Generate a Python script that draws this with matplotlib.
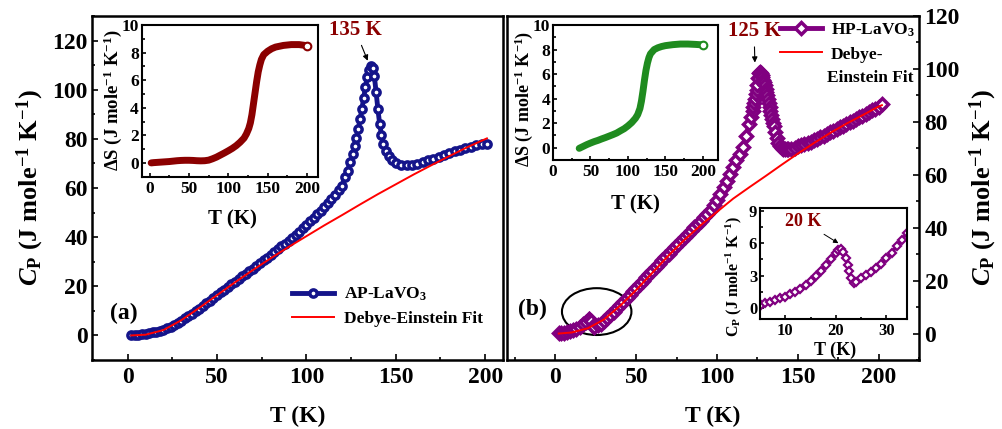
import matplotlib
matplotlib.use("Agg")
import matplotlib.pyplot as plt
from matplotlib.ticker import MultipleLocator
from matplotlib.patches import Ellipse

plt.rcParams['font.family'] = 'Liberation Serif'
plt.rcParams['font.weight'] = 'bold'
plt.rcParams['axes.labelweight'] = 'bold'
plt.rcParams['mathtext.fontset'] = 'custom'
plt.rcParams['mathtext.rm'] = 'Liberation Serif:bold'
plt.rcParams['mathtext.it'] = 'Liberation Serif:italic:bold'
plt.rcParams['mathtext.bf'] = 'Liberation Serif:bold'

# AP-LaVO3 heat capacity (T in K, Cp in J/mol K)
ap_T = [2, 4, 6, 8, 10, 12, 14, 16, 18, 20, 22, 24, 26, 28, 30, 32, 34, 36, 38, 40,
        42, 44, 46, 48, 50, 52, 54, 56, 58, 60, 62, 64, 66, 68, 70, 72, 74, 76, 78, 80,
        82, 84, 86, 88, 90, 92, 94, 96, 98, 100, 102, 104, 106, 108, 110, 112, 114, 116,
        118, 120, 121.5, 123, 124.5, 126, 127, 128, 129, 130, 131, 132, 133, 134, 135,
        136, 137, 138, 139, 140, 141, 142, 143, 144.5, 146, 148, 150, 153, 156, 159, 162,
        165, 168, 171, 174, 177, 180, 183, 186, 189, 192, 195, 198, 201]
ap_cp = [0.2, 0.25, 0.35, 0.5, 0.7, 0.9, 1.2, 1.5, 1.9, 2.4, 3.0, 3.6, 4.3, 5.1, 6.0,
         6.9, 7.9, 8.9, 9.9, 10.9, 12.0, 13.1, 14.2, 15.3, 16.4, 17.5, 18.6, 19.7, 20.8,
         21.9, 23.0, 24.0, 25.1, 26.1, 27.2, 28.3, 29.4, 30.5, 31.6, 32.7, 33.8, 35.0,
         36.2, 37.4, 38.6, 39.8, 41.0, 42.3, 43.6, 45.0, 46.4, 47.8, 49.3, 50.8, 52.3,
         53.9, 55.5, 57.2, 59.0, 61.0, 64.5, 67.0, 70.5, 74.0, 77.0, 80.5, 84.0, 88.0,
         92.0, 96.5, 101.0, 105.0, 108.0, 109.5, 108.8, 105.5, 99.0, 92.0, 86.0, 81.5,
         78.0, 75.0, 73.0, 71.2, 70.2, 69.4, 69.2, 69.4, 69.9, 70.5, 71.2, 72.0, 72.7,
         73.5, 74.2, 74.9, 75.6, 76.2, 76.8, 77.3, 77.8, 78.0]
ap_fit_T = [2, 10, 20, 30, 40, 50, 60, 70, 80, 90, 100, 110, 120, 130, 140, 150, 160,
            170, 180, 190, 201]
ap_fit_cp = [0.0, 0.3, 2.2, 6.2, 11.2, 16.4, 21.6, 26.6, 31.4, 36.0, 40.4, 44.8, 49.0,
             53.3, 57.5, 61.5, 65.5, 69.3, 73.0, 76.6, 80.2]

# AP-LaVO3 entropy change
ap_dS_T = [2, 5, 10, 15, 20, 25, 30, 35, 40, 45, 50, 55, 60, 65, 70, 75, 80, 85, 90, 95,
           100, 105, 110, 115, 120, 123, 126, 128, 130, 132, 134, 136, 138, 140, 142,
           145, 150, 155, 160, 170, 180, 190, 200]
ap_dS = [0.0, 0.02, 0.04, 0.06, 0.08, 0.1, 0.13, 0.16, 0.18, 0.19, 0.19, 0.18, 0.16,
         0.15, 0.16, 0.2, 0.3, 0.42, 0.57, 0.72, 0.88, 1.05, 1.25, 1.5, 1.8, 2.1, 2.5,
         2.9, 3.5, 4.3, 5.1, 5.9, 6.6, 7.1, 7.5, 7.85, 8.1, 8.28, 8.4, 8.52, 8.58, 8.58, 8.5]

# HP-LaVO3 heat capacity
hp_T = [2, 3.5, 5.3, 7, 9, 11, 13, 15, 17, 19, 20.5, 21, 22, 23, 24, 26, 28, 30, 32, 34,
        36, 38, 40, 42, 44, 46, 48, 50, 52, 54, 56, 58, 60, 62, 64, 66, 68, 70, 72, 74,
        76, 78, 80, 82, 84, 86, 88, 90, 92, 94, 96, 98, 100, 102, 104, 106, 108, 110,
        112, 114, 116, 118, 120, 121, 122, 122.5, 123, 123.5, 124, 124.5, 125, 125.5,
        126, 126.5, 127, 127.5, 128, 128.5, 129, 129.5, 130, 130.5, 131, 131.5, 132,
        132.5, 133, 133.5, 134, 134.5, 135, 136, 137, 138, 139, 140, 141, 142, 143, 144,
        146, 148, 150, 152, 154, 156, 158, 160, 162, 164, 166, 168, 170, 172, 174, 176,
        178, 180, 182, 184, 186, 188, 190, 192, 194, 196, 198, 200, 202]
hp_cp = [0.05, 0.15, 0.3, 0.6, 0.9, 1.3, 1.8, 2.5, 3.45, 4.5, 5.4, 5.5, 4.6, 2.8, 2.4,
         3.05, 3.7, 4.6, 5.7, 6.9, 8.2, 9.5, 10.8, 12.1, 13.4, 14.7, 16.0, 17.3, 18.6,
         19.9, 21.2, 22.5, 23.8, 25.1, 26.4, 27.7, 29.0, 30.2, 31.4, 32.7, 33.9, 35.2,
         36.4, 37.6, 38.9, 40.1, 41.4, 42.6, 43.9, 45.3, 46.8, 48.6, 50.5, 52.8, 55.2,
         57.5, 60.2, 62.8, 65.5, 67.8, 70.5, 74.7, 79.0, 82.0, 84.0, 85.5, 87.0, 88.7,
         90.5, 92.2, 94.0, 96.5, 98.5, 98.8, 98.5, 97.8, 97.0, 96.0, 95.0, 93.8, 92.5,
         91.2, 90.0, 88.5, 87.0, 85.5, 84.0, 82.5, 81.0, 79.7, 78.5, 76.0, 74.0, 72.0,
         70.8, 70.2, 69.9, 69.8, 69.7, 69.7, 69.9, 70.3, 70.8, 71.2, 71.6, 72.0, 72.5,
         73.0, 73.6, 74.2, 74.8, 75.4, 76.0, 76.6, 77.3, 77.9, 78.6, 79.2, 79.8, 80.5,
         81.1, 81.8, 82.4, 83.0, 83.7, 84.3, 85.0, 85.8, 86.7]
hp_fit_T = [2, 10, 20, 30, 40, 50, 60, 70, 80, 90, 100, 110, 120, 130, 140, 150, 160,
            170, 180, 190, 200, 202]
hp_fit_cp = [0.0, 0.4, 2.0, 5.3, 10.5, 16.5, 23.0, 29.5, 35.5, 41.0, 46.0, 51.0, 55.3,
             59.5, 63.8, 68.0, 72.0, 75.8, 79.3, 82.5, 85.8, 86.3]

# HP-LaVO3 entropy change
hp_dS_T = [35, 40, 45, 50, 55, 60, 65, 70, 75, 80, 85, 90, 95, 100, 105, 110, 113, 116,
           118, 120, 122, 124, 126, 128, 130, 135, 140, 145, 150, 160, 170, 180, 190, 200]
hp_dS = [-0.05, 0.1, 0.25, 0.38, 0.5, 0.6, 0.72, 0.83, 0.95, 1.07, 1.2, 1.38, 1.55, 1.78,
         2.05, 2.4, 2.7, 3.2, 3.8, 4.6, 5.5, 6.3, 6.9, 7.35, 7.65, 8.0, 8.15, 8.25, 8.32,
         8.4, 8.45, 8.45, 8.42, 8.38]

# HP-LaVO3 low temperature anomaly
lt_T = [5.3, 6, 7, 8, 9, 10, 11, 12, 13, 14, 15, 16, 17, 18, 19, 20, 20.5, 21, 21.5, 22,
        22.3, 22.6, 23, 23.5, 24, 25, 26, 27, 28, 29, 30, 31, 32, 33, 34]
lt_cp = [0.3, 0.45, 0.6, 0.75, 0.9, 1.07, 1.3, 1.5, 1.8, 2.1, 2.5, 3.0, 3.45, 4.0, 4.5,
         5.1, 5.4, 5.5, 5.2, 4.6, 4.0, 3.4, 2.8, 2.3, 2.4, 2.75, 3.05, 3.3, 3.7, 4.1, 4.6,
         5.1, 5.7, 6.3, 6.9]

navy = '#14148a'
purple = '#800080'
maroon = '#8b0000'
green = '#1f8b1f'

cp_label = r'$\mathit{C}_\mathrm{P}$ (J mole$^{-1}$ K$^{-1}$)'
ds_label = r'$\Delta$S (J mole$^{-1}$ K$^{-1}$)'


def style_axes(ax, lw, size, pad, major, minor):
    for sp in ax.spines.values():
        sp.set_linewidth(lw)
    ax.tick_params(which='both', direction='in', width=1.2, labelsize=size, pad=pad)
    ax.tick_params(which='major', length=major)
    ax.tick_params(which='minor', length=minor)


def place_labels(ax, xpos, ypos):
    ax.xaxis.set_label_coords(*xpos)
    ax.yaxis.set_label_coords(*ypos)
    ax.xaxis.label.set_va('center')
    ax.yaxis.label.set_va('center')


fig = plt.figure(figsize=(10.03, 4.29), dpi=100)

# (a) AP-LaVO3
ax1 = fig.add_axes([0.0917, 0.1608, 0.4098, 0.8019])
ax1.plot(ap_T, ap_cp, '-o', color=navy, lw=3.5, ms=5.2, mfc='white', mec=navy, mew=2.5,
         label='AP-LaVO$_3$')
ax1.plot(ap_fit_T, ap_fit_cp, '-', color='red', lw=1.4, label='Debye-Einstein Fit')
ax1.set_xlim(-20, 210)
ax1.set_ylim(-10, 130)
ax1.xaxis.set_major_locator(MultipleLocator(50))
ax1.xaxis.set_minor_locator(MultipleLocator(25))
ax1.yaxis.set_major_locator(MultipleLocator(20))
ax1.yaxis.set_minor_locator(MultipleLocator(10))
style_axes(ax1, 1.8, 17, 5, 4, 2.5)
ax1.tick_params(axis='y', pad=3)
ax1.set_xlabel('T (K)', fontsize=17)
ax1.set_ylabel(cp_label, fontsize=19)
place_labels(ax1, (0.501, -0.165), (-0.15, 0.5))
ax1.text(-2, 9, '(a)', fontsize=17, ha='center', va='center')
ax1.annotate('135 K', xy=(134.3, 111.8), xytext=(127.3, 124.3), fontsize=15,
             color=maroon, ha='center', va='center',
             arrowprops=dict(arrowstyle='-|>', color='black', lw=0.8, mutation_scale=8,
                             shrinkA=2, shrinkB=0))
ax1.legend(loc='upper left', bbox_to_anchor=(0.487, 0.216), frameon=False, fontsize=12.5,
           handlelength=2.4, handletextpad=0.6, labelspacing=0.45, borderpad=0,
           borderaxespad=0, numpoints=1)

# (b) HP-LaVO3
ax2 = fig.add_axes([0.5055, 0.1608, 0.4108, 0.8019])
ax2.plot(hp_T, hp_cp, '-D', color=purple, lw=3.5, ms=6.3, mfc='white', mec=purple, mew=2.5,
         label='HP-LaVO$_3$')
ax2.plot(hp_fit_T, hp_fit_cp, '-', color='red', lw=1.4, label='Debye-')
ax2.add_patch(Ellipse((25.5, 8.3), 43, 17.7, fill=False, ec='black', lw=1.5))
ax2.set_xlim(-30, 225)
ax2.set_ylim(-10, 120)
ax2.xaxis.set_major_locator(MultipleLocator(50))
ax2.xaxis.set_minor_locator(MultipleLocator(25))
ax2.yaxis.set_major_locator(MultipleLocator(20))
ax2.yaxis.set_minor_locator(MultipleLocator(10))
style_axes(ax2, 1.8, 17, 5, 4, 2.5)
ax2.tick_params(axis='y', which='both', left=False, labelleft=False, right=True,
                labelright=True, pad=4)
ax2.set_xlabel('T (K)', fontsize=17)
ax2.yaxis.set_label_position('right')
ax2.set_ylabel(cp_label, fontsize=19, rotation=90)
place_labels(ax2, (0.5, -0.165), (1.155, 0.5))
ax2.text(-14.2, 9.1, '(b)', fontsize=17, ha='center', va='center')
ax2.annotate('125 K', xy=(123.4, 102.4), xytext=(122.9, 114.2), fontsize=15,
             color=maroon, ha='center', va='center',
             arrowprops=dict(arrowstyle='-|>', color='black', lw=0.8, mutation_scale=8,
                             shrinkA=2, shrinkB=0))
ax2.legend(loc='upper left', bbox_to_anchor=(0.663, 0.985), frameon=False, fontsize=12.5,
           handlelength=2.4, handletextpad=0.5, labelspacing=0.45, borderpad=0,
           borderaxespad=0, numpoints=1)
# second line of the fit label, under "Debye-"
ax2.text(0.777, 0.821, 'Einstein Fit', transform=ax2.transAxes, fontsize=12.5,
         ha='left', va='center')

# entropy inset, AP sample
ins1 = fig.add_axes([0.1413, 0.5881, 0.1758, 0.3536])
ins1.plot(ap_dS_T, ap_dS, '-', color=maroon, lw=5, solid_capstyle='round')
ins1.plot(ap_dS_T[-1:], ap_dS[-1:], 'o', color=maroon, ms=5.5, mfc='white', mew=1.5)
ins1.set_xlim(-10, 214)
ins1.set_ylim(-1, 10)
ins1.xaxis.set_major_locator(MultipleLocator(50))
ins1.xaxis.set_minor_locator(MultipleLocator(25))
ins1.yaxis.set_major_locator(MultipleLocator(2))
ins1.yaxis.set_minor_locator(MultipleLocator(1))
style_axes(ins1, 1.5, 12.5, 3, 3, 1.8)
ins1.tick_params(axis='y', pad=2)
ins1.set_xlabel('T (K)', fontsize=15)
ins1.set_ylabel(ds_label, fontsize=13.5)
place_labels(ins1, (0.512, -0.281), (-0.163, 0.505))

# entropy inset, HP sample
ins2 = fig.add_axes([0.5513, 0.6270, 0.1645, 0.3147])
ins2.plot(hp_dS_T, hp_dS, '-', color=green, lw=5, solid_capstyle='round')
ins2.plot(hp_dS_T[-1:], hp_dS[-1:], 'o', color=green, ms=5.5, mfc='white', mew=1.5)
ins2.set_xlim(0, 220)
ins2.set_ylim(-1, 10)
ins2.xaxis.set_major_locator(MultipleLocator(50))
ins2.xaxis.set_minor_locator(MultipleLocator(25))
ins2.yaxis.set_major_locator(MultipleLocator(2))
ins2.yaxis.set_minor_locator(MultipleLocator(1))
style_axes(ins2, 1.5, 12.5, 3, 3, 1.8)
ins2.tick_params(axis='y', pad=2)
ins2.set_xlabel('T (K)', fontsize=15)
ins2.set_ylabel(ds_label, fontsize=13)
place_labels(ins2, (0.499, -0.328), (-0.178, 0.455))

# low temperature anomaly of HP sample
ins3 = fig.add_axes([0.7577, 0.2564, 0.1463, 0.2587])
ins3.plot(lt_T, lt_cp, '-D', color=purple, lw=2.5, ms=4, mfc='white', mec=purple, mew=1.6)
ins3.set_xlim(5, 34)
ins3.set_ylim(-1, 9.25)
ins3.xaxis.set_major_locator(MultipleLocator(10))
ins3.xaxis.set_minor_locator(MultipleLocator(5))
ins3.yaxis.set_major_locator(MultipleLocator(3))
ins3.yaxis.set_minor_locator(MultipleLocator(1.5))
style_axes(ins3, 1.5, 12, 3, 3, 1.8)
ins3.tick_params(axis='y', pad=2)
ins3.set_xlabel('T (K)', fontsize=13)
ins3.set_ylabel(r'C$_\mathrm{P}$ (J mole$^{-1}$ K$^{-1}$)', fontsize=11.5)
place_labels(ins3, (0.515, -0.28), (-0.18, 0.387))
ins3.annotate('20 K', xy=(20.5, 6.0), xytext=(13.6, 8.0), fontsize=13,
              color=maroon, ha='center', va='center',
              arrowprops=dict(arrowstyle='-|>', color='black', lw=0.7, mutation_scale=7,
                              shrinkA=2, shrinkB=0))

fig.savefig('out.png', dpi=100)
